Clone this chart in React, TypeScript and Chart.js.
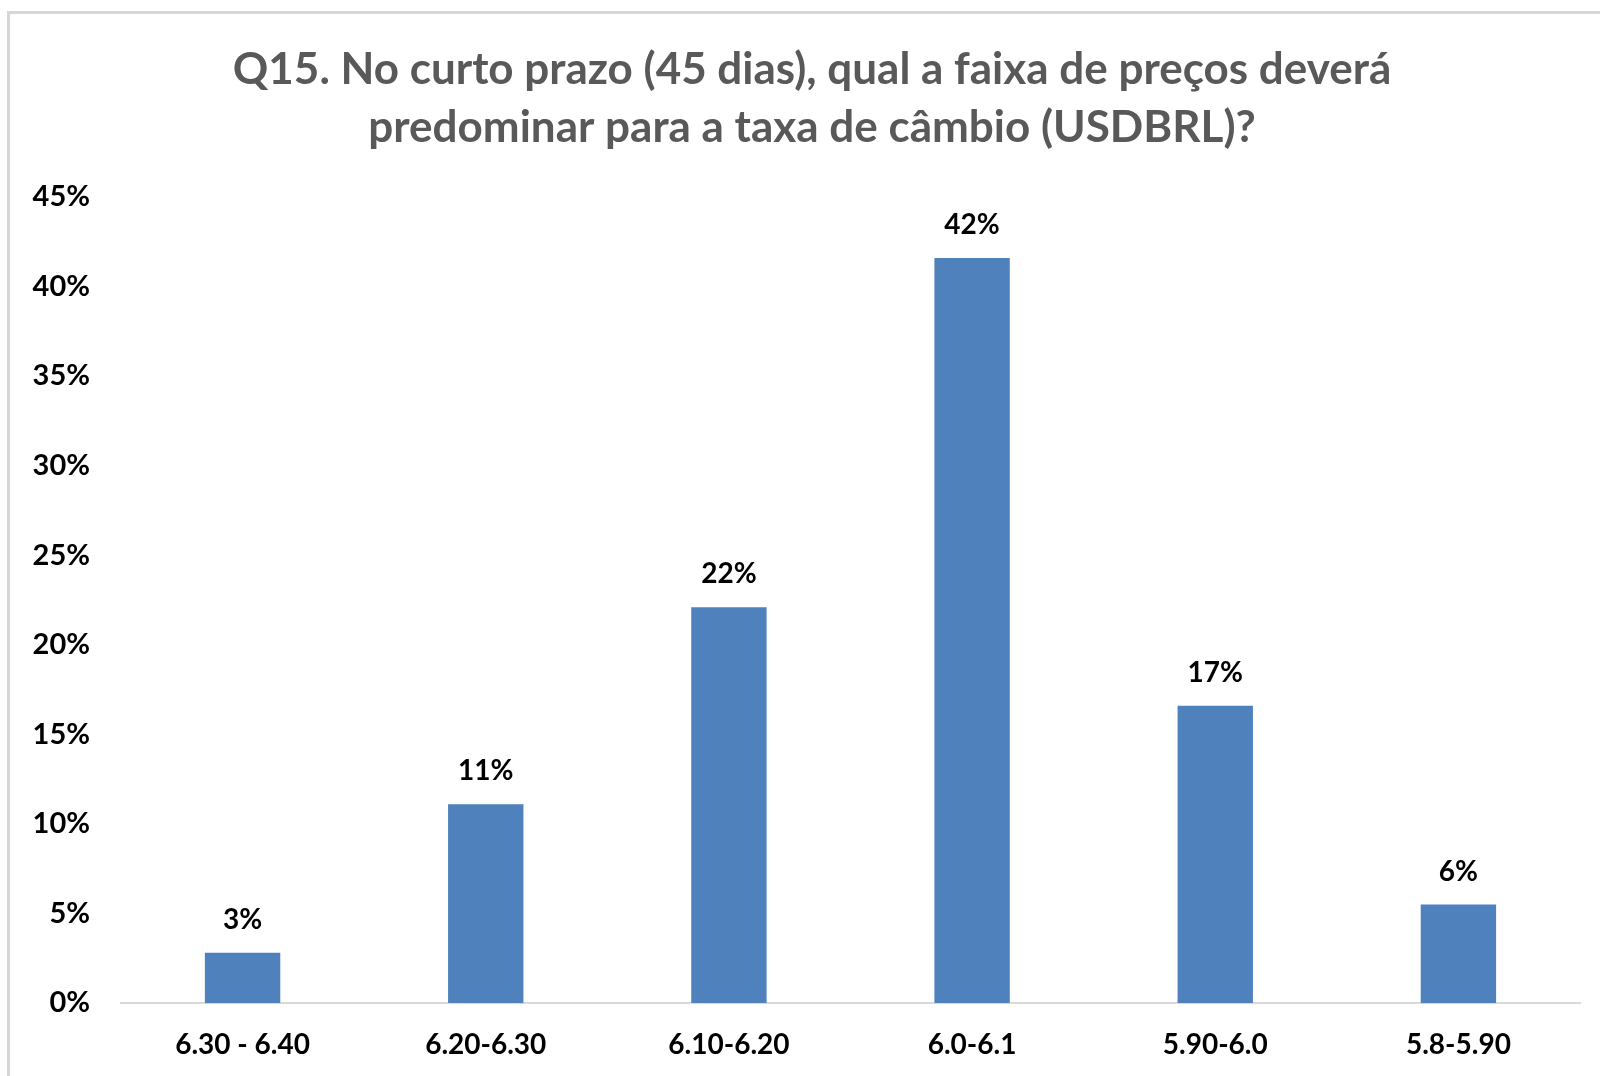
import React, { useEffect, useRef } from "react";
import { Chart, registerables } from "chart.js";

Chart.register(...registerables);

const titleLines = [
  "Q15. No curto prazo (45 dias), qual a faixa de preços deverá",
  "predominar para a taxa de câmbio (USDBRL)?",
];
const categories = ["6.30 - 6.40", "6.20-6.30", "6.10-6.20", "6.0-6.1", "5.90-6.0", "5.8-5.90"];
const shares = [2.8, 11.1, 22.1, 41.6, 16.6, 5.5];
const yTicks = [0, 5, 10, 15, 20, 25, 30, 35, 40, 45];

const FONT = "Lato, 'Open Sans', sans-serif";

const valueLabels = {
  id: "valueLabels",
  afterDatasetsDraw(chart: any) {
    const ctx = chart.ctx;
    const meta = chart.getDatasetMeta(0);
    const data = chart.data.datasets[0].data as number[];
    ctx.save();
    ctx.font = `bold 28px ${FONT}`;
    ctx.fillStyle = "#000000";
    ctx.textAlign = "center";
    ctx.textBaseline = "middle";
    meta.data.forEach((bar: any, i: number) => {
      ctx.fillText(Math.round(data[i]) + "%", bar.x, bar.y - 33);
    });
    ctx.restore();
  },
};

const titleDraw = {
  id: "titleDraw",
  afterDraw(chart: any) {
    const ctx = chart.ctx;
    ctx.save();
    ctx.font = `bold 44px ${FONT}`;
    ctx.fillStyle = "#595959";
    ctx.textAlign = "center";
    ctx.textBaseline = "middle";
    titleLines.forEach((line, i) => {
      ctx.fillText(line, 812, 70 + i * 58);
    });
    ctx.restore();
  },
};

export default function App() {
  const ref = useRef<HTMLCanvasElement | null>(null);
  useEffect(() => {
    if (!ref.current) return;
    const chart = new Chart(ref.current, {
      type: "bar",
      data: {
        labels: categories,
        datasets: [
          {
            data: shares,
            backgroundColor: "#4F81BD",
            borderWidth: 0,
            categoryPercentage: 1,
            barPercentage: 0.31,
          },
        ],
      },
      options: {
        animation: false,
        responsive: false,
        maintainAspectRatio: false,
        layout: { padding: { left: 0, right: 20, top: 197, bottom: 0 } },
        plugins: {
          legend: { display: false },
          tooltip: { enabled: false },
          title: { display: false },
        },
        scales: {
          x: {
            afterFit: (s: any) => {
              s.height = 73;
            },
            grid: { display: false, drawTicks: false },
            border: { display: true, color: "#d9d9d9", width: 2 },
            ticks: {
              color: "#000000",
              font: { family: FONT, size: 28, weight: "bold" },
              padding: 25,
              maxRotation: 0,
              autoSkip: false,
            },
          },
          y: {
            min: 0,
            max: 45,
            afterFit: (s: any) => {
              s.width = 121;
            },
            afterBuildTicks: (s: any) => {
              s.ticks = yTicks.map((v) => ({ value: v }));
            },
            grid: { display: false, drawTicks: false },
            border: { display: false },
            ticks: {
              color: "#000000",
              font: { family: FONT, size: 29, weight: "bold" },
              padding: 31,
              callback: (v: any) => v + "%",
            },
          },
        },
      },
      plugins: [valueLabels, titleDraw],
    });
    return () => chart.destroy();
  }, []);
  return (
    <div
      style={{
        position: "fixed",
        left: 0,
        top: 0,
        width: 1600,
        height: 1076,
        overflow: "hidden",
        background: "#ffffff",
      }}
    >
      <div
        style={{
          position: "absolute",
          left: 7,
          top: 11,
          width: 1700,
          height: 1200,
          borderLeft: "3px solid #d6d6d6",
          borderTop: "3px solid #d6d6d6",
        }}
      />
      <canvas
        ref={ref}
        width={1600}
        height={1076}
        style={{ position: "absolute", left: 0, top: 0, width: 1600, height: 1076 }}
      />
    </div>
  );
}
